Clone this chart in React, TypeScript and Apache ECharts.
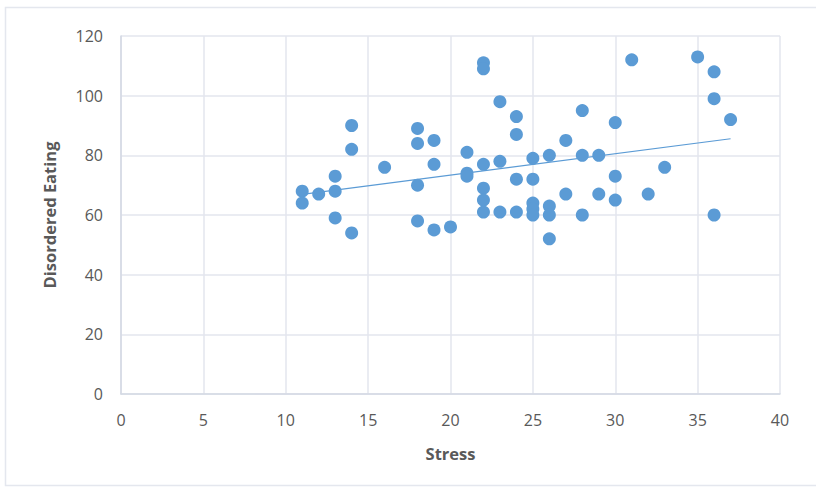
import React, { useEffect, useRef } from "react";
import * as echarts from "echarts";

const stress: number[] = [
  11, 11, 12, 13, 13, 13, 14, 14, 14, 16,
  18, 18, 18, 18, 19, 19, 19, 20, 21, 21,
  21, 22, 22, 22, 22, 22, 22, 23, 23, 23,
  24, 24, 24, 24, 25, 25, 25, 25, 25, 26,
  26, 26, 26, 27, 27, 28, 28, 28, 29, 29,
  30, 30, 30, 31, 32, 33, 35, 36, 36, 36,
  37,
];
const disorderedEating: number[] = [
  68, 64, 67, 73, 68, 59, 90, 82, 54, 76,
  89, 84, 70, 58, 85, 77, 55, 56, 81, 74,
  73, 111, 109, 77, 69, 65, 61, 98, 78, 61,
  93, 87, 72, 61, 79, 72, 64, 62, 60, 80,
  63, 60, 52, 85, 67, 95, 80, 60, 80, 67,
  91, 73, 65, 112, 67, 76, 113, 108, 99, 60,
  92,
];
const xTicks: number[] = [0, 5, 10, 15, 20, 25, 30, 35, 40];
const yTicks: number[] = [0, 20, 40, 60, 80, 100, 120];

function trend(xs: number[], ys: number[]): [number, number][] {
  const n = xs.length;
  const mx = xs.reduce((a, b) => a + b, 0) / n;
  const my = ys.reduce((a, b) => a + b, 0) / n;
  let sxy = 0;
  let sxx = 0;
  for (let i = 0; i < n; i++) {
    sxy += (xs[i] - mx) * (ys[i] - my);
    sxx += (xs[i] - mx) * (xs[i] - mx);
  }
  const b = sxy / sxx;
  const a = my - b * mx;
  const x0 = Math.min(...xs);
  const x1 = Math.max(...xs);
  return [
    [x0, a + b * x0],
    [x1, a + b * x1],
  ];
}

export default function App() {
  const ref = useRef<HTMLDivElement>(null);
  useEffect(() => {
    if (!ref.current) return;
    const chart = echarts.init(ref.current, undefined, { renderer: "svg" });
    const pts = stress.map((x, i) => [x, disorderedEating[i]]);
    const labelStyle = {
      color: "#595959",
      fontSize: 16,
      fontFamily: "Open Sans, Liberation Sans, sans-serif",
    };
    chart.setOption({
      animation: false,
      backgroundColor: "#ffffff",
      graphic: [
        {
          type: "rect",
          shape: { x: 5.5, y: 7.5, width: 900, height: 478 },
          style: { fill: "none", stroke: "#e4e7ee", lineWidth: 1.5 },
          silent: true,
        },
      ],
      grid: { left: 121, right: 36, top: 36, bottom: 93, containLabel: false },
      xAxis: {
        type: "value",
        min: xTicks[0],
        max: xTicks[xTicks.length - 1],
        interval: 5,
        name: "Stress",
        nameLocation: "middle",
        nameGap: 51,
        nameTextStyle: { ...labelStyle, fontWeight: "bold", fontSize: 16.5 },
        axisLine: { show: true, lineStyle: { color: "#d3d9e3", width: 1.5 } },
        axisTick: { show: false },
        axisLabel: { ...labelStyle, margin: 18 },
        splitLine: { show: true, lineStyle: { color: "#e3e6ee", width: 1.5 } },
      },
      yAxis: {
        type: "value",
        min: yTicks[0],
        max: yTicks[yTicks.length - 1],
        interval: 20,
        name: "Disordered Eating",
        nameLocation: "middle",
        nameGap: 63,
        nameTextStyle: { ...labelStyle, fontWeight: "bold", fontSize: 16.5 },
        axisLine: { show: true, lineStyle: { color: "#d3d9e3", width: 1.5 } },
        axisTick: { show: false },
        axisLabel: { ...labelStyle, margin: 18 },
        splitLine: { show: true, lineStyle: { color: "#e3e6ee", width: 1.5 } },
      },
      series: [
        {
          type: "line",
          data: trend(stress, disorderedEating),
          symbol: "none",
          lineStyle: { color: "#5b9bd5", width: 1.2 },
          z: 1,
        },
        {
          type: "scatter",
          data: pts,
          symbolSize: 13,
          itemStyle: { color: "#5b9bd5", opacity: 1 },
          z: 2,
        },
      ],
    });
    return () => chart.dispose();
  }, []);
  return (
    <div
      ref={ref}
      style={{ position: "fixed", left: 0, top: 0, width: 816, height: 487 }}
    />
  );
}
